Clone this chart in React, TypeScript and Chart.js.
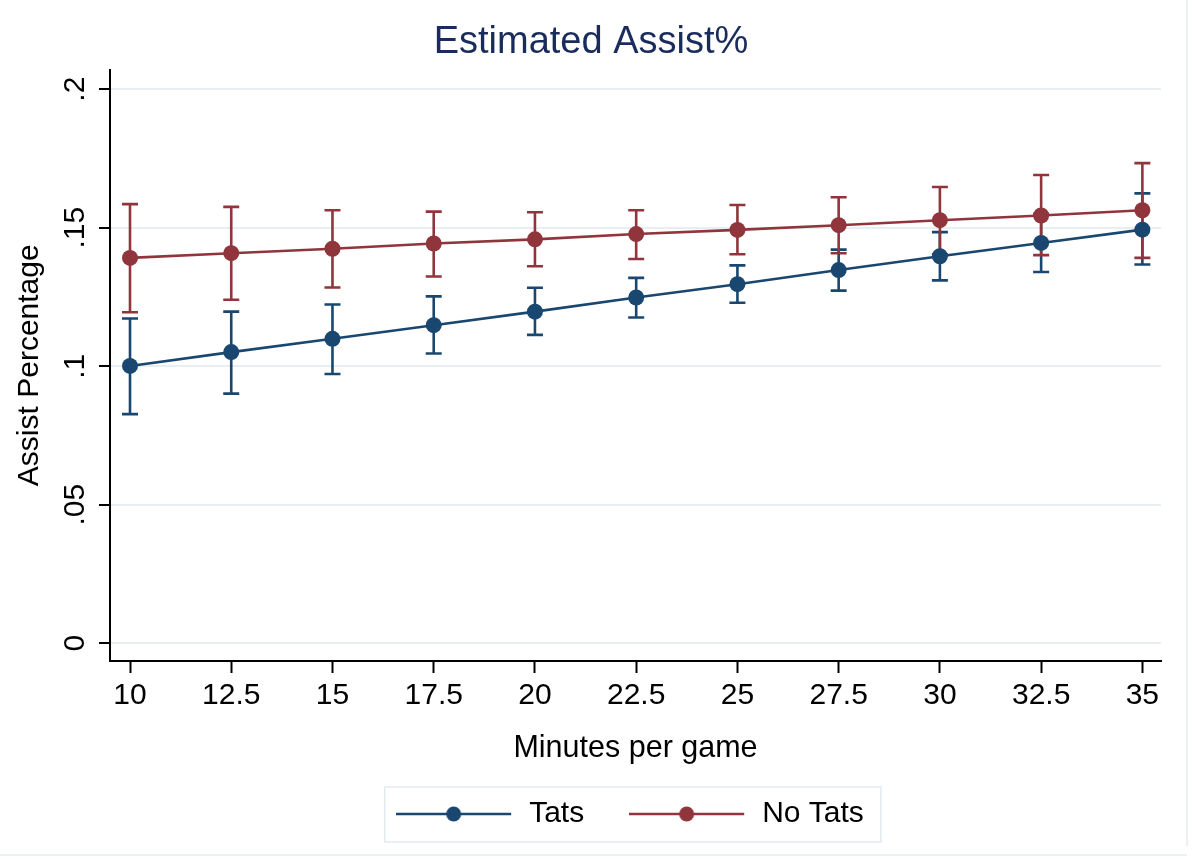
import { useEffect, useRef } from 'react';
import { Chart, registerables } from 'chart.js';

Chart.register(...registerables);

const FONT = '"Liberation Sans", Arial, Helvetica, sans-serif';

const minutes = [10, 12.5, 15, 17.5, 20, 22.5, 25, 27.5, 30, 32.5, 35];
const xTickLabels = ['10', '12.5', '15', '17.5', '20', '22.5', '25', '27.5', '30', '32.5', '35'];

const tatsEst = [0.1001, 0.1051, 0.1099, 0.1148, 0.1197, 0.1248, 0.1296, 0.1347, 0.1397, 0.1445, 0.1493];
const tatsLo = [0.0827, 0.0901, 0.0972, 0.1046, 0.1113, 0.1176, 0.1229, 0.1273, 0.131, 0.134, 0.1367];
const tatsHi = [0.1172, 0.1197, 0.1223, 0.1252, 0.1283, 0.1319, 0.1364, 0.1421, 0.1484, 0.155, 0.1624];

const noTatsEst = [0.1391, 0.1408, 0.1424, 0.1443, 0.1458, 0.1477, 0.1492, 0.1509, 0.1527, 0.1544, 0.1563];
const noTatsLo = [0.1195, 0.124, 0.1284, 0.1324, 0.1361, 0.1387, 0.1404, 0.1408, 0.1404, 0.1401, 0.1391];
const noTatsHi = [0.1585, 0.1575, 0.1563, 0.1558, 0.1556, 0.1563, 0.1582, 0.161, 0.1647, 0.169, 0.1733];

const yTickValues = [0, 0.05, 0.1, 0.15, 0.2];
const yTickLabels = ['0', '.05', '.1', '.15', '.2'];

const seriesNames = ['Tats', 'No Tats'];
const BLUE = '#1a476f';
const RED = '#90353b';

function makeLegendImage(color: string): HTMLCanvasElement {
  const c = document.createElement('canvas');
  c.width = 129;
  c.height = 20;
  const g = c.getContext('2d')!;
  g.strokeStyle = color;
  g.lineWidth = 2.5;
  g.beginPath();
  g.moveTo(0, 10);
  g.lineTo(115, 10);
  g.stroke();
  g.fillStyle = color;
  g.beginPath();
  g.arc(57.5, 10, 7.5, 0, Math.PI * 2);
  g.fill();
  return c;
}

const errorBarPlugin = {
  id: 'errorBars',
  beforeDatasetsDraw(chart: any) {
    const { ctx } = chart;
    const x = chart.scales.x;
    const y = chart.scales.y;
    const sets = [
      { lo: tatsLo, hi: tatsHi, color: BLUE },
      { lo: noTatsLo, hi: noTatsHi, color: RED },
    ];
    ctx.save();
    ctx.lineWidth = 2.6;
    sets.forEach((s) => {
      ctx.strokeStyle = s.color;
      minutes.forEach((m, i) => {
        const px = x.getPixelForValue(m);
        const yl = y.getPixelForValue(s.lo[i]);
        const yh = y.getPixelForValue(s.hi[i]);
        ctx.beginPath();
        ctx.moveTo(px, yl);
        ctx.lineTo(px, yh);
        ctx.moveTo(px - 8, yl);
        ctx.lineTo(px + 8, yl);
        ctx.moveTo(px - 8, yh);
        ctx.lineTo(px + 8, yh);
        ctx.stroke();
      });
    });
    ctx.restore();
  },
};

const backdropPlugin = {
  id: 'backdrop',
  beforeDraw(chart: any) {
    const { ctx } = chart;
    ctx.save();
    ctx.strokeStyle = '#e6ebee';
    ctx.lineWidth = 1.5;
    ctx.beginPath();
    ctx.moveTo(1187, 0);
    ctx.lineTo(1187, 846);
    ctx.moveTo(0, 855);
    ctx.lineTo(1187, 855);
    ctx.stroke();
    ctx.restore();
  },
};

const legendFramePlugin = {
  id: 'legendFrame',
  afterDraw(chart: any) {
    const lg = chart.legend;
    const hb = lg && lg.legendHitBoxes;
    if (!hb || !hb.length) return;
    const first = hb[0];
    const last = hb[hb.length - 1];
    const left = first.left - 22.5;
    const right = last.left + last.width + 17;
    const top = first.top - 12;
    const bottom = first.top + first.height + 13;
    const { ctx } = chart;
    ctx.save();
    ctx.strokeStyle = '#e3eaed';
    ctx.lineWidth = 1.5;
    ctx.strokeRect(left, top, right - left, bottom - top);
    ctx.restore();
  },
};

export default function App() {
  const ref = useRef<HTMLCanvasElement | null>(null);

  useEffect(() => {
    if (!ref.current) return;
    const legendImages = [makeLegendImage(BLUE), makeLegendImage(RED)];
    const chart = new Chart(ref.current, {
      type: 'line',
      data: {
        datasets: [
          {
            label: seriesNames[0],
            data: minutes.map((m, i) => ({ x: m, y: tatsEst[i] })),
            borderColor: BLUE,
            backgroundColor: BLUE,
            borderWidth: 2.6,
            pointRadius: 8,
            pointBorderWidth: 0,
            pointBackgroundColor: BLUE,
            tension: 0,
            yAxisID: 'y',
          },
          {
            label: seriesNames[1],
            data: minutes.map((m, i) => ({ x: m, y: noTatsEst[i] })),
            borderColor: RED,
            backgroundColor: RED,
            borderWidth: 2.6,
            pointRadius: 8,
            pointBorderWidth: 0,
            pointBackgroundColor: RED,
            tension: 0,
            yAxisID: 'y',
          },
        ],
      },
      options: {
        responsive: false,
        animation: false,
        events: [],
        font: { family: FONT },
        layout: { padding: { left: 0, right: 18, top: 0, bottom: 20 } },
        scales: {
          x: {
            type: 'linear',
            min: 9.506,
            max: 35.46,
            afterBuildTicks: (s: any) => {
              s.ticks = minutes.map((v) => ({ value: v }));
            },
            afterFit: (s: any) => {
              s.height = 82;
            },
            ticks: {
              autoSkip: false,
              maxRotation: 0,
              padding: 5,
              color: '#000',
              font: { family: FONT, size: 30 },
              callback: (_v: any, i: number) => xTickLabels[i],
            },
            grid: {
              drawOnChartArea: false,
              drawTicks: true,
              tickLength: 12,
              tickColor: '#000',
              tickWidth: 2,
            },
            border: { display: true, color: '#000', width: 2 },
            title: {
              display: true,
              text: 'Minutes per game',
              color: '#000',
              font: { family: FONT, size: 30.5 },
              padding: { top: 0, bottom: -24 },
            },
          },
          y: {
            type: 'linear',
            position: 'left',
            min: -0.0064,
            max: 0.2071,
            afterBuildTicks: (s: any) => {
              s.ticks = yTickValues.map((v) => ({ value: v }));
            },
            afterFit: (s: any) => {
              s.width = 110;
            },
            ticks: {
              minRotation: 90,
              maxRotation: 90,
              crossAlign: 'center',
              padding: 2,
              color: '#000',
              font: { family: FONT, size: 30 },
              callback: (_v: any, i: number) => yTickLabels[i],
            },
            grid: {
              color: '#e8eef1',
              lineWidth: 2,
              tickLength: 11,
              tickColor: '#000',
              tickWidth: 2,
            },
            border: { display: true, color: '#000', width: 2 },
            title: {
              display: true,
              text: 'Assist Percentage',
              color: '#000',
              font: { family: FONT, size: 30 },
              padding: { top: 12, bottom: 0 },
            },
          },
          yR: {
            type: 'linear',
            position: 'right',
            display: true,
            min: 0,
            max: 1,
            afterFit: (s: any) => {
              s.width = 21;
            },
            ticks: { display: false },
            grid: { display: false },
            border: { display: false },
          },
        },
        plugins: {
          title: {
            display: true,
            text: 'Estimated Assist%',
            color: '#1a2c5b',
            font: { family: FONT, size: 38, weight: 'normal' },
            padding: { top: 20.2, bottom: 3.7 },
          },
          legend: {
            display: true,
            position: 'bottom',
            fullSize: false,
            labels: {
              usePointStyle: true,
              pointStyleWidth: 107,
              padding: 56,
              color: '#000',
              font: { family: FONT, size: 30 },
              generateLabels: (ch: any) =>
                ch.data.datasets.map((ds: any, i: number) => ({
                  text: ds.label,
                  pointStyle: legendImages[i],
                  fillStyle: ds.borderColor,
                  strokeStyle: ds.borderColor,
                  lineWidth: 0,
                  hidden: false,
                  datasetIndex: i,
                  fontColor: '#000',
                })),
            },
          },
          tooltip: { enabled: false },
        },
      } as any,
      plugins: [backdropPlugin, errorBarPlugin, legendFramePlugin],
    });
    return () => chart.destroy();
  }, []);

  return (
    <div style={{ position: 'absolute', left: 0, top: 0, width: 1200, height: 859, background: '#fff' }}>
      <canvas ref={ref} width={1200} height={859} style={{ display: 'block' }} />
    </div>
  );
}
